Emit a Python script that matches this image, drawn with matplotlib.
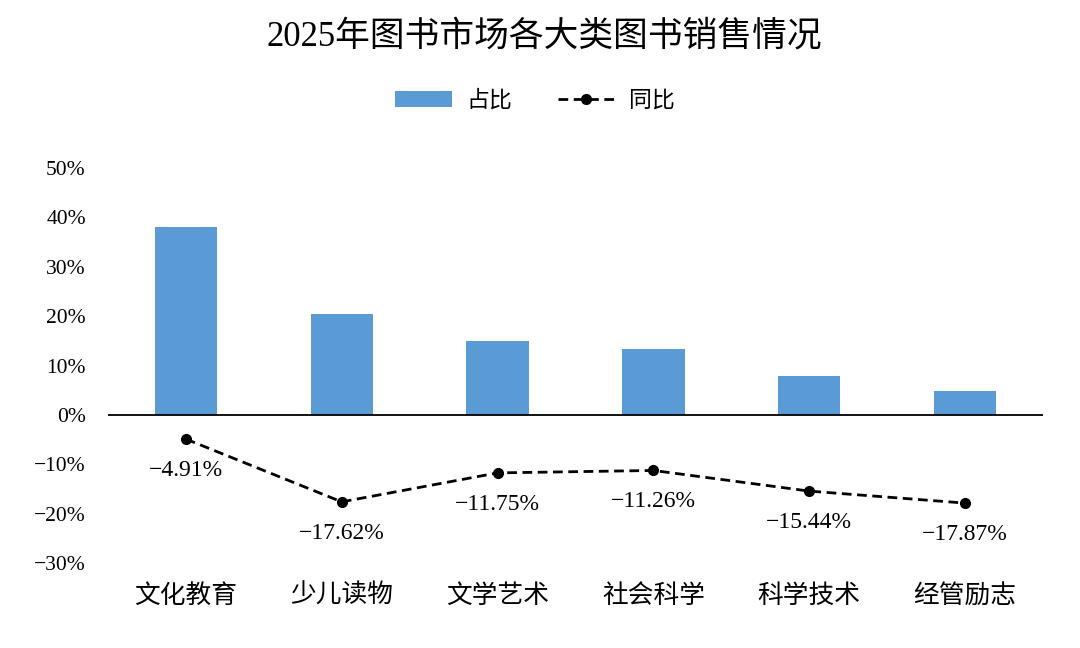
import numpy as np
import matplotlib.pyplot as plt

plt.rcParams['font.family'] = ['Liberation Serif', 'Noto Sans CJK SC', 'DejaVu Sans']
plt.rcParams['axes.unicode_minus'] = True

# 数据
categories = ['文化教育', '少儿读物', '文学艺术', '社会科学', '科学技术', '经管励志']
share = [38.0, 20.5, 15.0, 13.4, 7.9, 4.9]           # 占比 (%)
yoy = [-4.91, -17.62, -11.75, -11.26, -15.44, -17.87]  # 同比 (%)
yticks = [-30, -20, -10, 0, 10, 20, 30, 40, 50]

fig = plt.figure(figsize=(10.8, 6.48), dpi=100)
ax = fig.add_axes([0.1, 0.1312, 0.8657, 0.6095])

x = np.arange(len(categories))
bars = ax.bar(x, share, width=0.4, color='#5B9BD5', label='占比', zorder=2)
line, = ax.plot(x, yoy, color='black', linestyle=(0, (3.5, 2)), linewidth=2.0,
                marker='o', markersize=7, label='同比', zorder=3)

for xi, v in zip(x, yoy):
    ax.annotate(f'{v:.2f}%'.replace('-', '\u2212'), (xi, v), xytext=(0, -22.5),
                textcoords='offset points', ha='center', va='center', fontsize=17)

ax.axhline(0, color='black', linewidth=1.3, zorder=4)
ax.set_xlim(-0.5, len(categories) - 0.5)
ax.set_ylim(-30, 50)
ax.set_yticks(yticks)
ax.set_yticklabels([f'{t}%'.replace('-', '\u2212') for t in yticks], fontsize=15.5)
ax.set_xticks(x)
ax.set_xticklabels(categories, fontsize=18.5)
ax.tick_params(axis='both', length=0)
ax.tick_params(axis='y', pad=16)
ax.tick_params(axis='x', pad=15)
for s in ax.spines.values():
    s.set_visible(False)

fig.text(0.504, 0.943, '2025年图书市场各大类图书销售情况', ha='center', va='center', fontsize=25)
fig.legend([bars, line], ['占比', '同比'], loc='center', bbox_to_anchor=(0.495, 0.844),
           ncol=2, frameon=False, fontsize=16.5,
           handlelength=2.5, handletextpad=0.6, columnspacing=2.0)

fig.savefig('out.png', dpi=100)
